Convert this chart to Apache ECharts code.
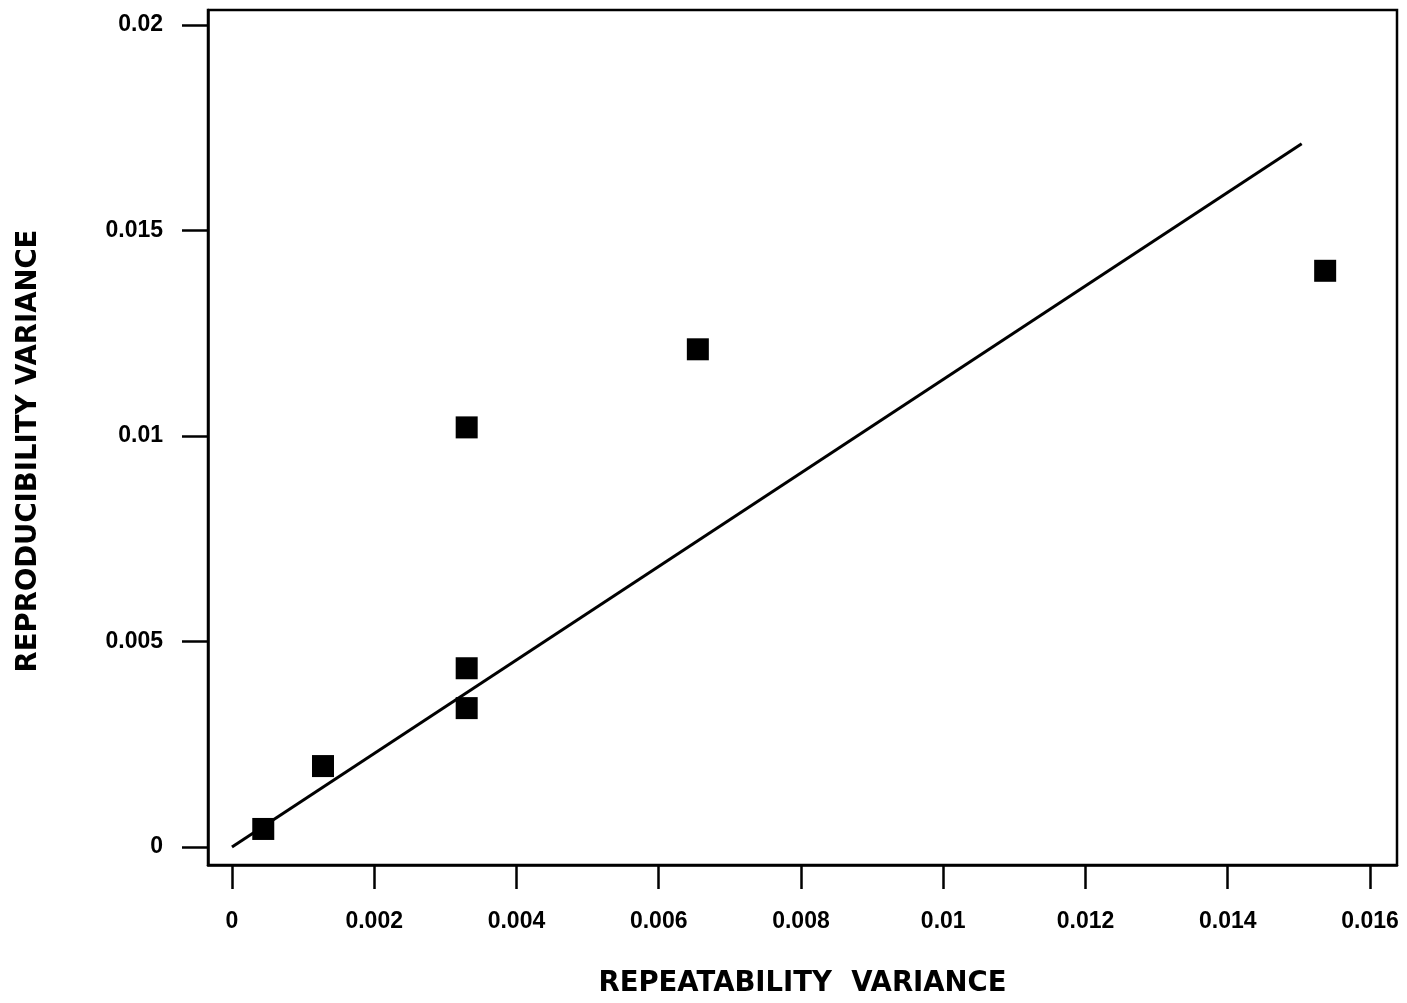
<!DOCTYPE html>
<html>
<head>
<meta charset="utf-8">
<script src="https://cdn.jsdelivr.net/npm/echarts@6/dist/echarts.min.js"></script>
<style>
html,body{margin:0;padding:0;background:#fff;}
#chart{width:1407px;height:1003px;}
</style>
</head>
<body>
<div id="chart"></div>
<script>
// Data
const repeatability = [0.00044, 0.00128, 0.0033, 0.0033, 0.0033, 0.00655, 0.01537];
const reproducibility = [0.00044, 0.00197, 0.00435, 0.00338, 0.01021, 0.01211, 0.01402];
const fitLineX = [0, 0.01504];
const fitLineY = [0, 0.01711];
const xTicks = [0, 0.002, 0.004, 0.006, 0.008, 0.010, 0.012, 0.014, 0.016];
const xTickLabels = ['0', '0.002', '0.004', '0.006', '0.008', '0.01', '0.012', '0.014', '0.016'];
const yTicks = [0, 0.005, 0.010, 0.015, 0.020];
const yTickLabels = ['0', '0.005', '0.01', '0.015', '0.02'];
const xTitle = 'REPEATABILITY  VARIANCE';
const yTitle = 'REPRODUCIBILITY VARIANCE';

const points = repeatability.map((x, i) => [x, reproducibility[i]]);
const fitLine = fitLineX.map((x, i) => [x, fitLineY[i]]);

function labelFor(ticks, labels) {
  return function (v) {
    for (let i = 0; i < ticks.length; i++) {
      if (Math.abs(ticks[i] - v) < 1e-9) return labels[i];
    }
    return '';
  };
}

const labelFont = {fontFamily: 'Liberation Sans', fontWeight: 'bold', fontSize: 23, color: '#000'};
const titleFont = {fontFamily: 'DejaVu Sans', fontWeight: 'bold', fontSize: 27.5, color: '#000'};

const chart = echarts.init(document.getElementById('chart'), null, {renderer: 'canvas'});
chart.setOption({
  animation: false,
  backgroundColor: '#fff',
  grid: {
    left: 208, right: 10, top: 10, bottom: 137,
    show: true, borderColor: '#000', borderWidth: 2.5, backgroundColor: 'transparent'
  },
  xAxis: {
    type: 'value',
    min: -0.000337, max: 0.01638,
    axisLine: {show: true, onZero: false, lineStyle: {color: '#000', width: 2.5}},
    axisTick: {show: true, length: 24, inside: false, customValues: xTicks, lineStyle: {color: '#000', width: 2.5}},
    axisLabel: Object.assign({margin: 45, customValues: xTicks, formatter: labelFor(xTicks, xTickLabels)}, labelFont),
    splitLine: {show: false},
    name: xTitle,
    nameLocation: 'middle',
    nameGap: 105,
    nameTextStyle: titleFont
  },
  yAxis: {
    type: 'value',
    min: -0.000437, max: 0.020365,
    axisLine: {show: true, onZero: false, lineStyle: {color: '#000', width: 2.5}},
    axisTick: {show: true, length: 26, inside: false, customValues: yTicks, lineStyle: {color: '#000', width: 2.5}},
    axisLabel: Object.assign({margin: 45, customValues: yTicks, formatter: labelFor(yTicks, yTickLabels)}, labelFont),
    splitLine: {show: false},
    name: yTitle,
    nameLocation: 'middle',
    nameGap: 165,
    nameRotate: 90,
    nameTextStyle: Object.assign({padding: [0, 27, 0, 0]}, titleFont)
  },
  series: [
    {
      type: 'line',
      data: fitLine,
      showSymbol: false,
      symbol: 'none',
      lineStyle: {color: '#000', width: 3},
      silent: true,
      z: 2
    },
    {
      type: 'scatter',
      data: points,
      symbol: 'rect',
      symbolSize: 22,
      itemStyle: {color: '#000', opacity: 1},
      z: 3
    }
  ]
});
</script>
</body>
</html>
